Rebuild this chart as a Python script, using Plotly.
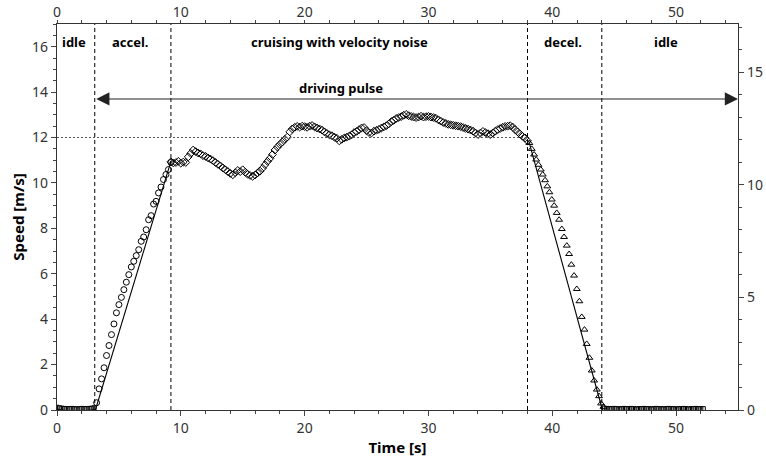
import plotly.graph_objects as go

# ---------------- data ----------------
idle1_t0, idle1_dt = 0.0, 0.2
idle1_v = [0.12, 0.10, 0.08, 0.07, 0.06, 0.06, 0.07, 0.06, 0.05, 0.06, 0.07, 0.06, 0.06, 0.07, 0.08, 0.10]

accel_t0, accel_dt = 3.2, 0.2
accel_v = [0.32, 0.93, 1.37, 1.86, 2.40, 2.84, 3.32, 3.79, 4.28, 4.64, 4.96, 5.30, 5.63, 5.96, 6.30, 6.55,
           6.80, 7.06, 7.43, 7.62, 7.94, 8.38, 8.56, 9.07, 9.19, 9.56, 9.82, 10.15, 10.37, 10.59, 10.90]

cruise_t0, cruise_dt = 9.2, 0.2
cruise_v = [10.93, 10.88, 10.90, 10.95, 10.87, 10.92, 10.90, 11.15, 11.30, 11.45,
            11.38, 11.32, 11.28, 11.20, 11.17, 11.10, 11.05, 10.98, 10.90, 10.82,
            10.75, 10.66, 10.58, 10.50, 10.42, 10.36, 10.45, 10.55, 10.50, 10.58,
            10.47, 10.38, 10.33, 10.29, 10.35, 10.44, 10.52, 10.65, 10.80, 10.95,
            11.08, 11.25, 11.45, 11.58, 11.70, 11.80, 11.92, 12.02, 12.25, 12.38,
            12.45, 12.49, 12.46, 12.50, 12.48, 12.45, 12.50, 12.53, 12.47, 12.42,
            12.38, 12.33, 12.25, 12.18, 12.12, 12.08, 12.02, 11.97, 11.85, 11.92,
            11.98, 12.02, 12.06, 12.12, 12.22, 12.27, 12.35, 12.42, 12.44, 12.30,
            12.22, 12.20, 12.28, 12.32, 12.36, 12.42, 12.47, 12.52, 12.60, 12.70,
            12.76, 12.84, 12.88, 12.92, 12.98, 13.02, 12.96, 12.93, 12.90, 12.88,
            12.90, 12.94, 12.90, 12.92, 12.93, 12.90, 12.88, 12.85, 12.78, 12.72,
            12.66, 12.62, 12.58, 12.56, 12.54, 12.52, 12.50, 12.48, 12.44, 12.40,
            12.37, 12.33, 12.28, 12.20, 12.13, 12.20, 12.27, 12.22, 12.17, 12.13,
            12.20, 12.28, 12.35, 12.40, 12.45, 12.49, 12.50, 12.52, 12.46, 12.35,
            12.25, 12.15, 12.05, 11.98, 11.85]

decel_t = [38.15, 38.34, 38.53, 38.70, 38.88, 39.07, 39.23, 39.42, 39.60, 39.77, 39.96, 40.15, 40.36,
           40.55, 40.77, 40.95, 41.17, 41.36, 41.54, 41.76, 41.98, 42.19, 42.38, 42.60, 42.78, 43.00,
           43.19, 43.38, 43.60, 43.78, 43.94, 44.13]
decel_v = [11.76, 11.50, 11.25, 11.03, 10.80, 10.59, 10.37, 10.12, 9.85, 9.59, 9.27, 9.00, 8.68,
           8.38, 7.97, 7.62, 7.24, 6.87, 6.40, 5.92, 5.33, 4.79, 4.10, 3.54, 2.91, 2.30,
           1.74, 1.30, 0.90, 0.61, 0.29, 0.14]

idle2_t0, idle2_dt = 44.2, 0.2
idle2_v = [0.08, 0.07, 0.06, 0.06, 0.07, 0.06, 0.05, 0.06, 0.07, 0.06,
           0.06, 0.07, 0.06, 0.05, 0.06, 0.06, 0.07, 0.06, 0.06, 0.05,
           0.06, 0.07, 0.06, 0.06, 0.05, 0.06, 0.07, 0.06, 0.06, 0.05,
           0.06, 0.06, 0.07, 0.06, 0.05, 0.06, 0.06, 0.07, 0.06, 0.06, 0.06]

ramp_up_t = [3.1, 9.2]
ramp_up_v = [0.0, 10.95]
ramp_down_t = [38.1, 44.05]
ramp_down_v = [11.85, 0.0]

phase_bounds = [3.05, 9.2, 38.0, 44.0]
phase_labels = ["idle", "accel.", "cruising with velocity noise", "decel.", "idle"]
phase_label_x = [1.4, 5.9, 22.8, 40.9, 49.2]
target_speed = 12.0
pulse_y = 13.7

x_ticks = [0, 10, 20, 30, 40, 50]
y_ticks = [0, 2, 4, 6, 8, 10, 12, 14, 16]
y2_ticks = [0, 5, 10, 15]


def times(t0, dt, vals):
    return [round(t0 + dt * i, 3) for i in range(len(vals))]


# ---------------- figure ----------------
fig = go.Figure()
mk_line = dict(color="black", width=1)

fig.add_trace(go.Scatter(x=ramp_up_t, y=ramp_up_v, mode="lines",
                         line=dict(color="black", width=1.1), showlegend=False))
fig.add_trace(go.Scatter(x=ramp_down_t, y=ramp_down_v, mode="lines",
                         line=dict(color="black", width=1.1), showlegend=False))

fig.add_trace(go.Scatter(x=times(idle1_t0, idle1_dt, idle1_v), y=idle1_v, mode="markers",
                         marker=dict(symbol="square-open", size=4, color="black", line=mk_line),
                         showlegend=False))
fig.add_trace(go.Scatter(x=times(accel_t0, accel_dt, accel_v), y=accel_v, mode="markers",
                         marker=dict(symbol="circle-open", size=6, color="black", line=mk_line),
                         showlegend=False))
fig.add_trace(go.Scatter(x=times(cruise_t0, cruise_dt, cruise_v), y=cruise_v, mode="markers",
                         marker=dict(symbol="diamond-open", size=6, color="black", line=mk_line),
                         showlegend=False))
fig.add_trace(go.Scatter(x=decel_t, y=decel_v, mode="markers",
                         marker=dict(symbol="triangle-up-open", size=6, color="black", line=mk_line),
                         showlegend=False))
fig.add_trace(go.Scatter(x=times(idle2_t0, idle2_dt, idle2_v), y=idle2_v, mode="markers",
                         marker=dict(symbol="square-open", size=4, color="black", line=mk_line),
                         showlegend=False))

# invisible trace to bind top/right axes
fig.add_trace(go.Scatter(x=[0], y=[0], xaxis="x2", yaxis="y2", mode="markers",
                         marker=dict(opacity=0), showlegend=False, hoverinfo="skip"))

# vertical phase boundaries
for xb in phase_bounds:
    fig.add_shape(type="line", x0=xb, x1=xb, y0=0, y1=17, xref="x", yref="y",
                  line=dict(color="black", width=1, dash="4px,3px"))

# target speed reference
fig.add_shape(type="line", x0=0, x1=phase_bounds[2], y0=target_speed, y1=target_speed,
              xref="x", yref="y", line=dict(color="#555555", width=1, dash="2px,2px"))

# phase labels
for lab, xl in zip(phase_labels, phase_label_x):
    fig.add_annotation(x=xl, y=16.2, text="<b>%s</b>" % lab, showarrow=False,
                       font=dict(family="Noto Sans", size=13, color="black"))

# driving pulse arrow (double headed)
fig.add_annotation(x=55, y=pulse_y, ax=phase_bounds[0], ay=pulse_y, xref="x", yref="y",
                   axref="x", ayref="y", text="", showarrow=True, arrowhead=2, startarrowhead=2,
                   arrowside="end+start", arrowsize=2.4, startarrowsize=2.4, arrowwidth=1.1,
                   arrowcolor="#222222")
fig.add_annotation(x=22.95, y=14.2, text="<b>driving pulse</b>", showarrow=False,
                   font=dict(family="Noto Sans", size=13, color="black"))

axis_common = dict(showline=True, linecolor="#333333", linewidth=1.2, ticks="outside",
                   tickcolor="#444444", tickwidth=1, showgrid=False, zeroline=False,
                   automargin=False,
                   tickfont=dict(family="Noto Sans", size=14, color="#333333"))

fig.update_layout(
    width=766, height=460,
    margin=dict(l=57, r=28, t=24, b=50),
    plot_bgcolor="white", paper_bgcolor="white",
    xaxis=dict(range=[0, 55], tickvals=x_ticks, ticktext=[str(v) for v in x_ticks], ticklen=5,
               minor=dict(dtick=2, tick0=0, ticks="outside", ticklen=3, tickcolor="#444444"),
               title=dict(text="<b>Time [s]</b>", standoff=1,
                          font=dict(family="Noto Sans", size=15, color="black")),
               **axis_common),
    xaxis2=dict(range=[0, 55], overlaying="x", side="top", tickvals=x_ticks, ticklen=3,
                ticklabelstandoff=-3,
                ticktext=[str(v) for v in x_ticks],
                minor=dict(dtick=2, tick0=0, ticks="outside", ticklen=3, tickcolor="#444444"),
                **axis_common),
    yaxis=dict(range=[0, 17], tickvals=y_ticks, ticktext=[str(v) for v in y_ticks], ticklen=5,
               minor=dict(dtick=0.5, tick0=0, ticks="outside", ticklen=3, tickcolor="#444444"),
               title=dict(text="<b>Speed [m/s]</b>", standoff=3,
                          font=dict(family="Noto Sans", size=15, color="black")),
               **axis_common),
    yaxis2=dict(range=[0, 17.15], overlaying="y", side="right", tickvals=y2_ticks, ticklen=5,
                ticktext=[str(v) for v in y2_ticks],
                minor=dict(dtick=1, tick0=0, ticks="outside", ticklen=3, tickcolor="#444444"),
                **axis_common),
)

fig.write_html("out.html")
